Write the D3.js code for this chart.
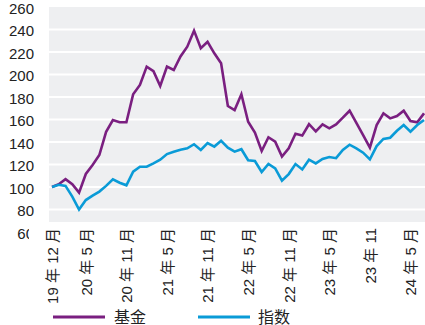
<!DOCTYPE html>
<html>
<head>
<meta charset="utf-8">
<script src="https://cdn.jsdelivr.net/npm/d3@7/dist/d3.min.js"></script>
<style>
  html, body { margin: 0; padding: 0; background: #fff; }
  svg { display: block; }
  text { font-family: "Liberation Sans", Arial, "Noto Sans CJK SC", sans-serif; fill: #222; }
</style>
</head>
<body>
<svg id="chart" width="425" height="325"></svg>
<script>
// Monthly values, Dec 2019 – Jul 2024, rebased to 100
const months = d3.timeMonth.range(new Date(2019, 11, 1), new Date(2024, 7, 1)).map(d3.timeFormat("%Y-%m"));

const fund = [
  100, 102.5, 107, 102.5, 95, 111.6, 119.6, 128.4, 149, 159.5,
  157.5, 157.5, 182.4, 190.7, 207, 203, 189.8, 207, 204, 216,
  224.7, 239, 223.3, 229, 218.8, 210, 172, 168.4, 182.4, 158,
  148.3, 132, 144.2, 140.3, 127, 134.4, 147.3, 145.7, 155.8, 149.5,
  155.7, 152.2, 155.7, 161.6, 167.8, 157, 146.2, 135, 155.1, 165.5,
  161, 163.1, 167.8, 158.7, 157.5, 165.5
];

const index = [
  100, 102, 101, 91.4, 80, 88.4, 92.3, 95.9, 101, 106.8,
  103.8, 101.5, 113.6, 118, 118, 121, 124.3, 129.3, 131.4, 133.2,
  134.4, 138, 133, 139, 135.9, 141, 135, 131.4, 133.6, 123.8,
  123.1, 113.3, 120.5, 116.6, 105.6, 111.5, 120.4, 115.6, 124.3, 121,
  124.9, 126.6, 125.6, 132.9, 137.6, 134.4, 130.5, 124.6, 136.4, 142.7,
  143.8, 150, 155.1, 149.2, 155.1, 159.6
];

const yTicks = [60, 80, 100, 120, 140, 160, 180, 200, 220, 240, 260];
const xTickMonths = ["2019-12", "2020-05", "2020-11", "2021-05", "2021-11", "2022-05", "2022-11", "2023-05", "2023-11", "2024-05"];
const xTickLabels = ["19 年 12 月", "20 年 5 月", "20 年 11 月", "21 年 5 月", "21 年 11 月", "22 年 5 月", "22 年 11 月", "23 年 5 月", "23 年 11", "24 年 5 月"];

const seriesNames = ["基金", "指数"];
const colors = ["#7a1f80", "#0a9bd7"];

const svg = d3.select("#chart");

const plot = { left: 49, right: 425, top: 7, bottom: 222 };

const x = d3.scalePoint().domain(months).range([52, 424]);
const y = d3.scaleLinear().domain([60, 260]).range([232, 7]);

// plot background
svg.append("rect")
  .attr("x", plot.left).attr("y", plot.top)
  .attr("width", plot.right - plot.left).attr("height", plot.bottom - plot.top)
  .attr("fill", "#eeeff1");

// horizontal gridlines
svg.append("g")
  .selectAll("line")
  .data(yTicks.filter(v => v > 60 && v < 260))
  .join("line")
  .attr("x1", plot.left).attr("x2", plot.right)
  .attr("y1", d => y(d)).attr("y2", d => y(d))
  .attr("stroke", "#ffffff").attr("stroke-width", 2);

// y axis labels
const yAxis = d3.axisLeft(y).tickValues(yTicks).tickSize(0).tickPadding(0);
const yg = svg.append("g").attr("transform", "translate(34,1.2)").call(yAxis);
yg.select(".domain").remove();
yg.selectAll("text")
  .attr("font-size", 15)
  .attr("font-family", "'Liberation Sans', Arial, sans-serif")
  .attr("fill", "#222")
  .attr("text-anchor", "end");

// lines
const line = d3.line()
  .x((d, i) => x(months[i]))
  .y(d => y(d));

[fund, index].forEach((s, k) => {
  svg.append("path")
    .datum(s)
    .attr("d", line)
    .attr("fill", "none")
    .attr("stroke", colors[k])
    .attr("stroke-width", 2.6)
    .attr("stroke-linejoin", "miter");
});

// label strip below the plot
svg.append("rect")
  .attr("x", 29).attr("y", plot.bottom)
  .attr("width", 425 - 29).attr("height", 325 - plot.bottom)
  .attr("fill", "#ffffff");

// x axis labels, rotated
const xAxis = d3.axisBottom(x)
  .tickValues(xTickMonths)
  .tickFormat((d, i) => xTickLabels[i])
  .tickSize(0).tickPadding(0);
const xg = svg.append("g").attr("transform", "translate(0,228)").call(xAxis);
xg.select(".domain").remove();
xg.selectAll("text")
  .attr("font-size", 15)
  .attr("font-family", "'Liberation Sans', Arial, 'Noto Sans CJK SC', sans-serif")
  .attr("fill", "#222")
  .attr("text-anchor", "end")
  .attr("transform", "rotate(-90)")
  .attr("x", 0)
  .attr("y", 0)
  .attr("dy", "0.36em");

// legend
const legend = svg.append("g");
const legendItems = [
  { x1: 53, x2: 105, tx: 114 },
  { x1: 198, x2: 250, tx: 258 }
];
legendItems.forEach((it, k) => {
  legend.append("line")
    .attr("x1", it.x1).attr("x2", it.x2)
    .attr("y1", 317).attr("y2", 317)
    .attr("stroke", colors[k]).attr("stroke-width", 3);
  legend.append("text")
    .attr("x", it.tx).attr("y", 317)
    .attr("dy", "0.36em")
    .attr("font-size", 16)
    .attr("font-family", "'Noto Sans CJK SC', sans-serif")
    .attr("fill", "#222")
    .text(seriesNames[k]);
});
</script>
</body>
</html>
